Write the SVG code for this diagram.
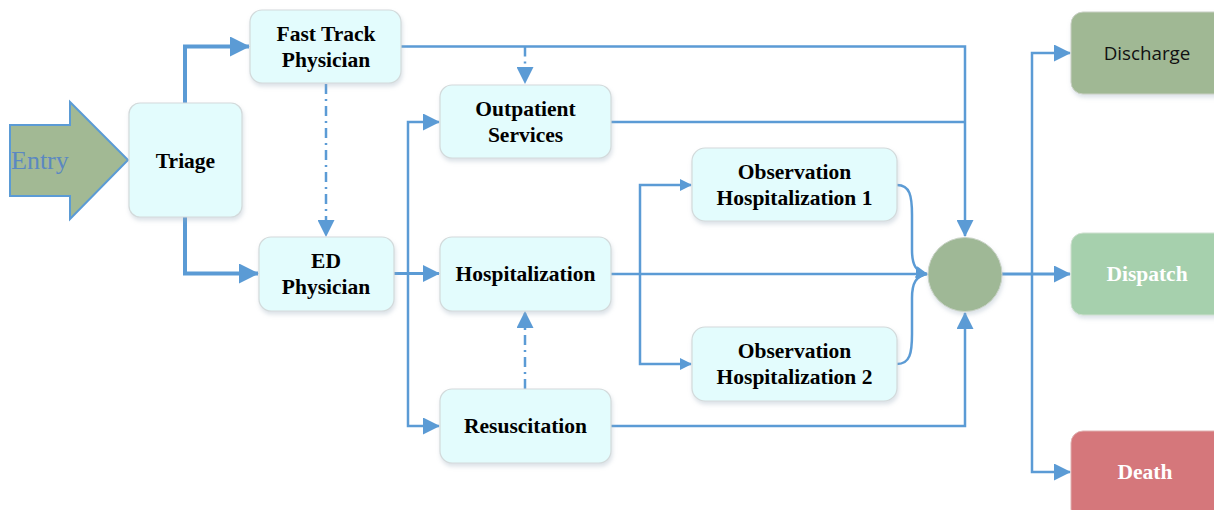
<svg xmlns="http://www.w3.org/2000/svg" width="1214" height="510" viewBox="0 0 1214 510">
<style>
.node{fill:#e3fcfd;stroke:#d3dadb;stroke-width:1.2;filter:url(#sh)}
.t{font-family:"Liberation Serif",serif;font-weight:bold;font-size:21.5px;fill:#000;text-anchor:middle}
.tw{font-family:"Liberation Serif",serif;font-weight:bold;font-size:21.5px;fill:#fff;text-anchor:middle}
.c{fill:none;stroke:#5b9bd5;stroke-width:2.5}
.thick{stroke-width:4}
.mid{stroke-width:3.2}
.dd{stroke-dasharray:10 5 2 5}
</style>
<defs>
<filter id="sh" x="-10%" y="-10%" width="125%" height="130%">
<feDropShadow dx="1" dy="3" stdDeviation="2" flood-color="#9ab" flood-opacity="0.35"/>
</filter>
<marker id="aL" markerUnits="userSpaceOnUse" markerWidth="20" markerHeight="20" viewBox="0 0 20 20" refX="19" refY="10" orient="auto"><path d="M0,0 L20,10 L0,20 Z" fill="#5b9bd5"/></marker>
<marker id="aM" markerUnits="userSpaceOnUse" markerWidth="17" markerHeight="17" viewBox="0 0 17 17" refX="16" refY="8.5" orient="auto"><path d="M0,0 L17,8.5 L0,17 Z" fill="#5b9bd5"/></marker>
<marker id="aS" markerUnits="userSpaceOnUse" markerWidth="12" markerHeight="12" viewBox="0 0 12 12" refX="11" refY="6" orient="auto"><path d="M0,0 L12,6 L0,12 Z" fill="#5b9bd5"/></marker>
</defs>
<rect width="1214" height="510" fill="#fff"/>

<g id="connectors">
<path class="c thick" d="M185,103 V46.5 H249" marker-end="url(#aL)"/>
<path class="c thick" d="M185,217 V273.5 H258" marker-end="url(#aL)"/>
<path class="c dd" d="M326,84 V236" marker-end="url(#aM)"/>
<path class="c" d="M401,46.5 H965 V236" marker-end="url(#aM)"/>
<path class="c dd" d="M525,46.5 V83" marker-end="url(#aM)"/>
<path class="c" d="M611,122 H965"/>
<path class="c mid" d="M394,273.5 H439" marker-end="url(#aM)"/>
<path class="c" d="M408,273.5 V122 H439" marker-end="url(#aM)"/>
<path class="c" d="M408,273.5 V426 H439" marker-end="url(#aM)"/>
<path class="c" d="M611,274 H927" marker-end="url(#aS)"/>
<path class="c" d="M640,274 V185 H691" marker-end="url(#aS)"/>
<path class="c" d="M640,274 V364 H691" marker-end="url(#aS)"/>
<path class="c" d="M897,185 C910,185 912,196 912,215 V250 C912,265 916,272 927,274" marker-end="url(#aS)"/>
<path class="c" d="M897,364 C910,364 912,353 912,334 V298 C912,283 916,276 927,274"/>
<path class="c" d="M611,426 H965 V313" marker-end="url(#aM)"/>
<path class="c dd" d="M525,389 V312" marker-end="url(#aM)"/>
<path class="c mid" d="M1002,274 H1070" marker-end="url(#aM)"/>
<path class="c" d="M1032,274 V53 H1070" marker-end="url(#aM)"/>
<path class="c" d="M1032,274 V472 H1070" marker-end="url(#aM)"/>
</g>

<g id="entry">
<path d="M10,125 H70 V102 L128,160 L70,219 V196 H10 Z" fill="#a2b994" stroke="#5b9bd5" stroke-width="2"/>
<text x="11" y="169" font-family="Liberation Serif, serif" font-size="26" fill="#5b88c2">Entry</text>
</g>

<g id="triage"><rect class="node" x="129" y="103" width="113" height="114" rx="11"/><text class="t" x="185.5" y="167.5">Triage</text></g>
<g id="fasttrack"><rect class="node" x="250" y="10" width="151" height="73" rx="12"/><text class="t" x="326" y="41">Fast Track</text><text class="t" x="326" y="67">Physician</text></g>
<g id="ed"><rect class="node" x="259" y="237" width="135" height="74" rx="12"/><text class="t" x="326" y="268">ED</text><text class="t" x="326" y="294">Physician</text></g>
<g id="outpatient"><rect class="node" x="440" y="85" width="171" height="73" rx="12"/><text class="t" x="525.5" y="116">Outpatient</text><text class="t" x="525.5" y="142">Services</text></g>
<g id="hospitalization"><rect class="node" x="440" y="237" width="171" height="74" rx="12"/><text class="t" x="525.5" y="281">Hospitalization</text></g>
<g id="resuscitation"><rect class="node" x="440" y="389" width="171" height="74" rx="12"/><text class="t" x="525.5" y="433">Resuscitation</text></g>
<g id="obs1"><rect class="node" x="692" y="148" width="205" height="73" rx="13"/><text class="t" x="794.5" y="179">Observation</text><text class="t" x="794.5" y="205">Hospitalization 1</text></g>
<g id="obs2"><rect class="node" x="692" y="327" width="205" height="74" rx="13"/><text class="t" x="794.5" y="358">Observation</text><text class="t" x="794.5" y="384">Hospitalization 2</text></g>
<g id="merge"><circle cx="965" cy="274.5" r="37" fill="#9fb896" stroke="#c9d2c6" stroke-width="1" filter="url(#sh)"/></g>
<g id="discharge"><rect x="1071" y="12" width="160" height="82" rx="12" fill="#a0b894" stroke="#c9d0c4" stroke-width="1" filter="url(#sh)"/><text x="1147" y="60" font-family="Open Sans, sans-serif" font-size="18.8" fill="#111" text-anchor="middle">Discharge</text></g>
<g id="dispatch"><rect x="1071" y="233" width="160" height="82" rx="12" fill="#a6d0ad" stroke="#cfe0d0" stroke-width="1" filter="url(#sh)"/><text class="tw" x="1147" y="281">Dispatch</text></g>
<g id="death"><rect x="1071" y="431" width="160" height="90" rx="12" fill="#d5777b" stroke="#e0b0b0" stroke-width="1"/><text class="tw" x="1145" y="479">Death</text></g>
</svg>
